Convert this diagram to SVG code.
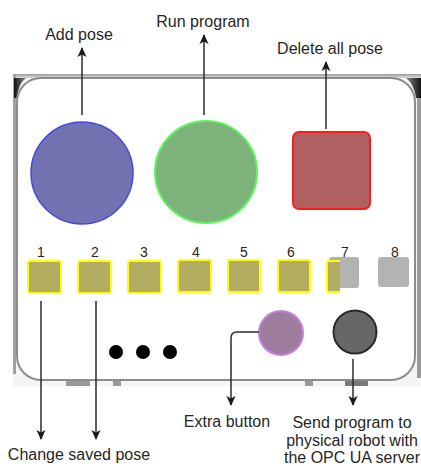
<svg xmlns="http://www.w3.org/2000/svg" width="421" height="466" viewBox="0 0 421 466">
<defs>
<marker id="ah" markerWidth="10" markerHeight="10" refX="9" refY="5" orient="auto" markerUnits="userSpaceOnUse">
<path d="M0,0.5 L10,5 L0,9.5 L2.5,5 Z" fill="#1a1a1a"/>
</marker>
<linearGradient id="topbar" x1="0" y1="0" x2="0" y2="1">
<stop offset="0" stop-color="#9a9a9a"/><stop offset="1" stop-color="#e0e0e0"/>
</linearGradient>
<linearGradient id="lcorner" x1="0" y1="0" x2="1" y2="0">
<stop offset="0" stop-color="#111"/><stop offset="1" stop-color="#888"/>
</linearGradient>
<linearGradient id="rcorner" x1="1" y1="0" x2="0" y2="0">
<stop offset="0" stop-color="#111"/><stop offset="1" stop-color="#888"/>
</linearGradient>
</defs>
<style>
text{font-family:"Liberation Sans",Arial,sans-serif;fill:#262626;font-size:16px;text-anchor:middle}
.num{font-size:14px}
.conn{fill:none;stroke:#2b2b2b;stroke-width:1.5}
.key{fill:#b2ad60;stroke:#ffff00;stroke-width:2}
.grey{fill:#b3b3b3}
</style>
<g id="panel">
<rect x="13" y="74" width="408" height="312" fill="#f5f5f5"/>
<rect x="13" y="74" width="408" height="4" fill="url(#topbar)"/>
<rect x="13" y="74" width="3" height="300" fill="#a0a0a0"/>
<rect x="417" y="78" width="4" height="300" fill="#9a9a9a"/>
<path d="M14,78 L26,78 Q18,84 17,98 L14,98 Z" fill="url(#lcorner)"/>
<path d="M421,78 L406,78 Q414,84 416,98 L421,98 Z" fill="url(#rcorner)"/>
<rect x="17" y="78" width="398" height="302" rx="24" fill="#ffffff" stroke="#8c8c8c" stroke-width="2"/>
<rect x="66" y="381" width="24" height="5" fill="#999"/>
<rect x="113" y="381" width="8" height="5" fill="#999"/>
<rect x="305" y="381" width="8" height="5" fill="#999"/>
<rect x="345" y="381" width="23" height="5" fill="#7a7a7a"/>
</g>
<g id="add-pose-button"><circle cx="82" cy="173" r="51" fill="#7272b0" stroke="#4646e6" stroke-width="1.5"/></g>
<g id="run-program-button"><circle cx="206" cy="172" r="51" fill="#7db37b" stroke="#5cf55c" stroke-width="2"/></g>
<g id="delete-all-button"><rect x="293" y="132" width="77" height="77" rx="6" fill="#b06060" stroke="#ff1a1a" stroke-width="2"/></g>
<g id="pose-keys">
<text class="num" x="41" y="257">1</text>
<text class="num" x="95" y="257">2</text>
<text class="num" x="144" y="257">3</text>
<text class="num" x="196" y="257">4</text>
<text class="num" x="244" y="257">5</text>
<text class="num" x="291" y="257">6</text>
<text class="num" x="345" y="257">7</text>
<text class="num" x="395" y="257">8</text>
<rect class="key" x="28" y="261" width="33" height="32" rx="2"/>
<rect class="key" x="78" y="261" width="33" height="32" rx="2"/>
<rect class="key" x="128" y="261" width="33" height="32" rx="2"/>
<rect class="key" x="178" y="260" width="33" height="32" rx="2"/>
<rect class="key" x="228" y="260" width="32" height="32" rx="2"/>
<rect class="key" x="278" y="260" width="32" height="32" rx="2"/>
<rect class="grey" x="329" y="257" width="30" height="31" rx="3"/>
<path d="M340,261 L329,261 Q327,261 327,263 L327,290 Q327,292 329,292 L340,292 Z" fill="#b2ad60"/>
<path d="M340,261 L329,261 Q327,261 327,263 L327,290 Q327,292 329,292 L340,292" fill="none" stroke="#ffff00" stroke-width="2"/>
<rect class="grey" x="378" y="257" width="31" height="30" rx="3"/>
</g>
<g id="dots">
<circle cx="116" cy="352" r="7" fill="#000"/>
<circle cx="143" cy="352" r="7" fill="#000"/>
<circle cx="170" cy="352" r="7" fill="#000"/>
</g>
<g id="extra-button"><circle cx="281" cy="333" r="22" fill="#9e7c9e" stroke="#c47fdc" stroke-width="2"/></g>
<g id="send-button"><circle cx="355" cy="332" r="21.5" fill="#676767" stroke="#2a2a2a" stroke-width="2"/></g>
<g id="connectors">
<line class="conn" x1="82" y1="115" x2="82" y2="48" marker-end="url(#ah)"/>
<line class="conn" x1="204" y1="115" x2="204" y2="35" marker-end="url(#ah)"/>
<line class="conn" x1="326" y1="129" x2="326" y2="62" marker-end="url(#ah)"/>
<line class="conn" x1="41" y1="301" x2="41" y2="439" marker-end="url(#ah)"/>
<line class="conn" x1="96" y1="301" x2="96" y2="439" marker-end="url(#ah)"/>
<path class="conn" d="M259,332 L237,332 Q231,332 231,338 L231,405" marker-end="url(#ah)"/>
<line class="conn" x1="353" y1="359" x2="353" y2="405" marker-end="url(#ah)"/>
</g>
<g id="labels">
<text x="79" y="40">Add pose</text>
<text x="203" y="27">Run program</text>
<text x="330" y="54">Delete all pose</text>
<text x="79" y="460">Change saved pose</text>
<text x="227" y="427">Extra button</text>
<text x="352" y="428">Send program to</text>
<text x="352" y="445.5">physical robot with</text>
<text x="352" y="463">the OPC UA server</text>
</g>
</svg>
